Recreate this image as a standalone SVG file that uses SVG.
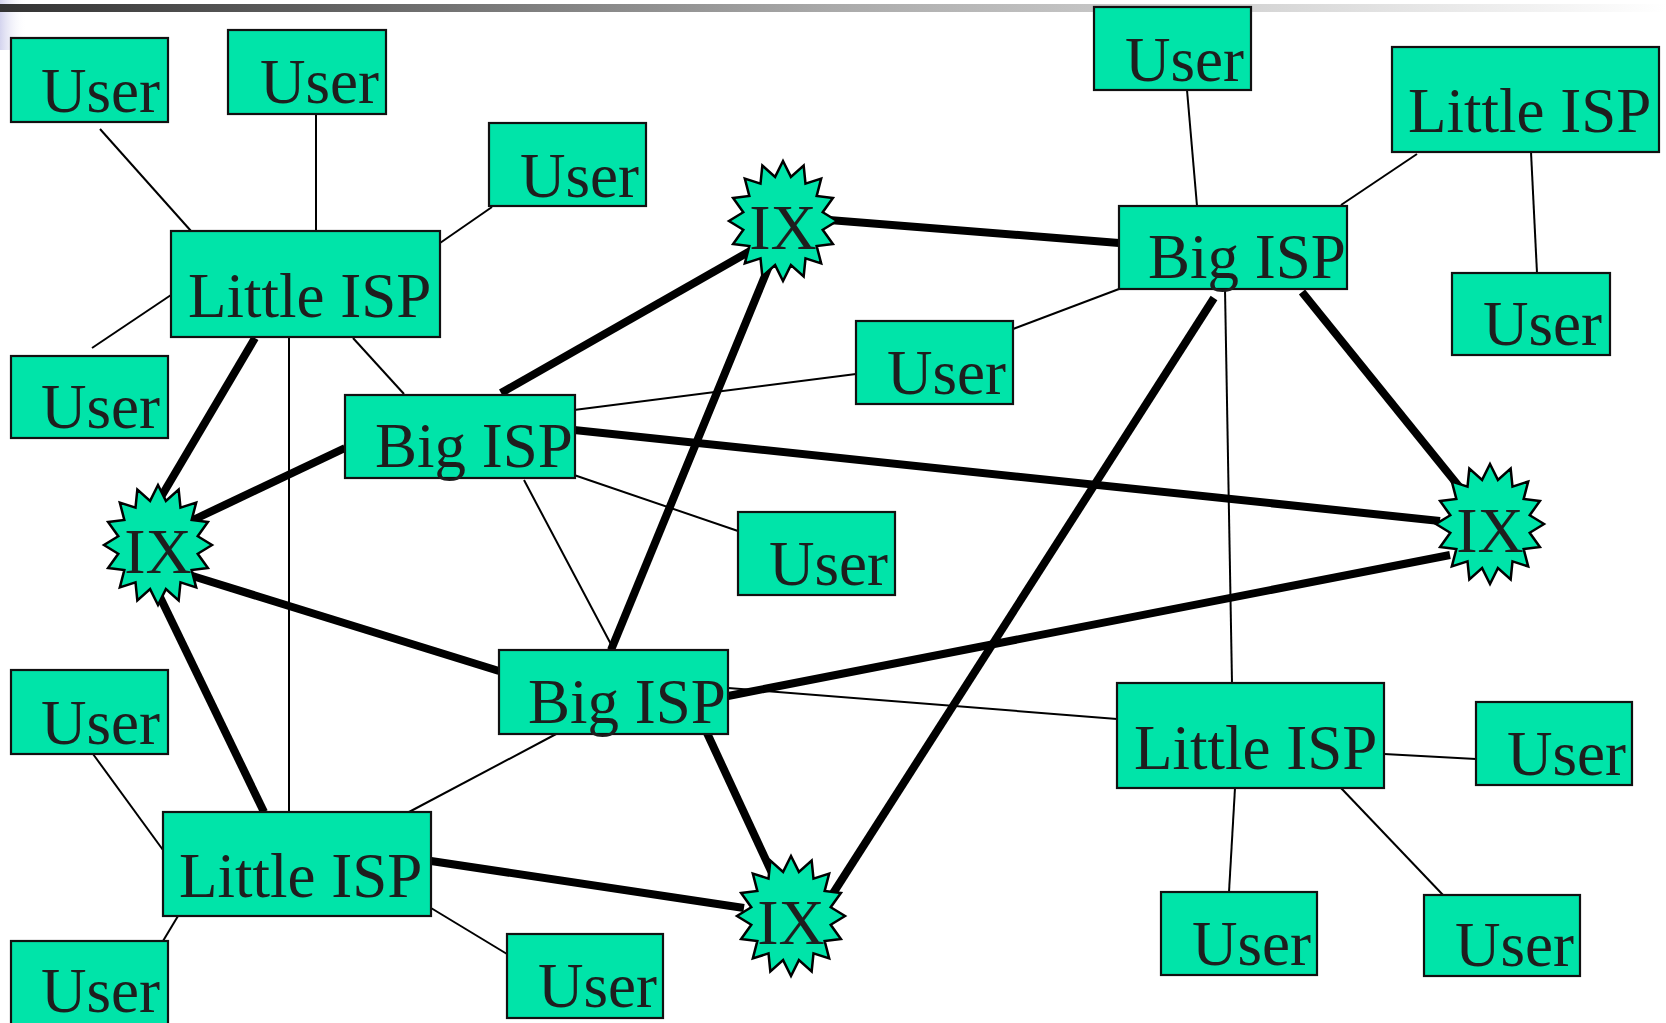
<svg xmlns="http://www.w3.org/2000/svg" xmlns:xlink="http://www.w3.org/1999/xlink" width="1666" height="1023" viewBox="0 0 1666 1023">
<style>
.box{fill:#00E4A9;stroke:#111;stroke-width:2.2}
.star{fill:#00E4A9;stroke:#000;stroke-width:2.5;stroke-linejoin:miter}
.t{font-family:"Liberation Serif","Times New Roman",serif;font-size:63px;fill:#1e1e1e}
.ix{font-family:"Liberation Serif","Times New Roman",serif;font-size:64px;fill:#1e1e1e;text-anchor:middle}
.thin{stroke:#000;stroke-width:2;fill:none}
.thick{stroke:#000;stroke-width:8;fill:none}
</style>
<defs>
<linearGradient id="bar" x1="0" y1="0" x2="1" y2="0">
<stop offset="0" stop-color="#333"/>
<stop offset="0.5" stop-color="#aaa"/>
<stop offset="1" stop-color="#fff"/>
</linearGradient>
<linearGradient id="lav" x1="0" y1="0" x2="1" y2="0">
<stop offset="0" stop-color="#d4d4ee"/>
<stop offset="1" stop-color="#fff" stop-opacity="0"/>
</linearGradient>
<path id="star" class="star" d="M0,-60 L7.9,-44.14 L20.66,-55.43 L22.5,-37.42 L38.18,-42.43 L33.67,-25 L49.89,-22.96 L39.72,-8.78 L54,0 L39.72,8.78 L49.89,22.96 L33.67,25 L38.18,42.43 L22.5,37.42 L20.66,55.43 L7.9,44.14 L0,60 L-7.9,44.14 L-20.66,55.43 L-22.5,37.42 L-38.18,42.43 L-33.67,25 L-49.89,22.96 L-39.72,8.78 L-54,0 L-39.72,-8.78 L-49.89,-22.96 L-33.67,-25 L-38.18,-42.43 L-22.5,-37.42 L-20.66,-55.43 L-7.9,-44.14 Z"/>
</defs>
<rect x="0" y="0" width="1666" height="1023" fill="#fff"/>
<rect x="0" y="0" width="27" height="50" fill="url(#lav)"/>
<rect x="0" y="4" width="1666" height="8" fill="url(#bar)"/>

<g id="connectors">
<g class="thin">
<line x1="100" y1="129" x2="191" y2="231"/>
<line x1="316" y1="114" x2="316" y2="231"/>
<line x1="492" y1="207" x2="440" y2="243"/>
<line x1="92" y1="348" x2="171" y2="295"/>
<line x1="353" y1="338" x2="404" y2="394"/>
<line x1="289" y1="338" x2="289" y2="812"/>
<line x1="574" y1="410" x2="856" y2="374"/>
<line x1="574" y1="475" x2="738" y2="531"/>
<line x1="524" y1="480" x2="614" y2="650"/>
<line x1="1013" y1="329" x2="1119" y2="289"/>
<line x1="1187" y1="90" x2="1197" y2="206"/>
<line x1="1417" y1="154" x2="1341" y2="205"/>
<line x1="1531" y1="152" x2="1537" y2="273"/>
<line x1="1225" y1="289" x2="1232" y2="683"/>
<line x1="728" y1="688" x2="1117" y2="719"/>
<line x1="1384" y1="754" x2="1476" y2="759"/>
<line x1="1235" y1="788" x2="1229" y2="892"/>
<line x1="1341" y1="788" x2="1443" y2="895"/>
<line x1="558" y1="733" x2="409" y2="812"/>
<line x1="93" y1="754" x2="163" y2="850"/>
<line x1="163" y1="941" x2="178" y2="916"/>
<line x1="431" y1="908" x2="507" y2="954"/>
</g>
<g class="thick">
<line x1="255" y1="338" x2="161" y2="497"/>
<line x1="345" y1="448" x2="191" y2="521"/>
<line x1="186" y1="574" x2="499" y2="671"/>
<line x1="159" y1="595" x2="264" y2="812"/>
<line x1="501" y1="393" x2="752" y2="250"/>
<line x1="611" y1="650" x2="769" y2="266"/>
<line x1="829" y1="220" x2="1119" y2="243"/>
<line x1="574" y1="430" x2="1440" y2="521"/>
<line x1="1302" y1="292" x2="1461" y2="489"/>
<line x1="728" y1="696" x2="1450" y2="555"/>
<line x1="1214" y1="298" x2="832" y2="895"/>
<line x1="707" y1="733" x2="772" y2="873"/>
<line x1="431" y1="861" x2="744" y2="908"/>
</g>
</g>

<g id="user1"><rect class="box" x="11" y="38" width="157" height="84"/><text class="t" x="41" y="112">User</text></g>
<g id="user2"><rect class="box" x="228" y="30" width="158" height="84"/><text class="t" x="260" y="103">User</text></g>
<g id="user3"><rect class="box" x="489" y="123" width="157" height="83"/><text class="t" x="520" y="197">User</text></g>
<g id="user4"><rect class="box" x="11" y="356" width="157" height="82"/><text class="t" x="41" y="428">User</text></g>
<g id="little-isp-1"><rect class="box" x="171" y="231" width="269" height="106"/><text class="t" x="188" y="317">Little ISP</text></g>
<g id="big-isp-1"><rect class="box" x="345" y="395" width="230" height="83"/><text class="t" x="375" y="467">Big ISP</text></g>
<g id="user5"><rect class="box" x="738" y="512" width="157" height="83"/><text class="t" x="769" y="585">User</text></g>
<g id="user6"><rect class="box" x="856" y="321" width="157" height="83"/><text class="t" x="887" y="394">User</text></g>
<g id="big-isp-2"><rect class="box" x="1119" y="206" width="228" height="83"/><text class="t" x="1148" y="278">Big ISP</text></g>
<g id="user7"><rect class="box" x="1094" y="7" width="157" height="83"/><text class="t" x="1125" y="81">User</text></g>
<g id="little-isp-2"><rect class="box" x="1392" y="47" width="267" height="105"/><text class="t" x="1408" y="132">Little ISP</text></g>
<g id="user8"><rect class="box" x="1452" y="273" width="158" height="82"/><text class="t" x="1483" y="345">User</text></g>
<g id="big-isp-3"><rect class="box" x="499" y="650" width="229" height="84"/><text class="t" x="528" y="723">Big ISP</text></g>
<g id="little-isp-3"><rect class="box" x="1117" y="683" width="267" height="105"/><text class="t" x="1134" y="769">Little ISP</text></g>
<g id="user9"><rect class="box" x="1476" y="702" width="156" height="83"/><text class="t" x="1507" y="775">User</text></g>
<g id="user10"><rect class="box" x="1161" y="892" width="156" height="83"/><text class="t" x="1192" y="965">User</text></g>
<g id="user11"><rect class="box" x="1424" y="895" width="156" height="81"/><text class="t" x="1455" y="966">User</text></g>
<g id="little-isp-4"><rect class="box" x="163" y="812" width="268" height="104"/><text class="t" x="179" y="897">Little ISP</text></g>
<g id="user12"><rect class="box" x="11" y="670" width="157" height="84"/><text class="t" x="41" y="744">User</text></g>
<g id="user13"><rect class="box" x="11" y="941" width="157" height="90"/><text class="t" x="41" y="1012">User</text></g>
<g id="user14"><rect class="box" x="507" y="934" width="156" height="84"/><text class="t" x="538" y="1007">User</text></g>

<g id="ix-1"><use xlink:href="#star" href="#star" x="158" y="545"/><text class="ix" x="158" y="573">IX</text></g>
<g id="ix-2"><use xlink:href="#star" href="#star" x="783" y="221"/><text class="ix" x="783" y="249">IX</text></g>
<g id="ix-3"><use xlink:href="#star" href="#star" x="1490" y="524"/><text class="ix" x="1490" y="552">IX</text></g>
<g id="ix-4"><use xlink:href="#star" href="#star" x="791" y="916"/><text class="ix" x="791" y="944">IX</text></g>
</svg>
